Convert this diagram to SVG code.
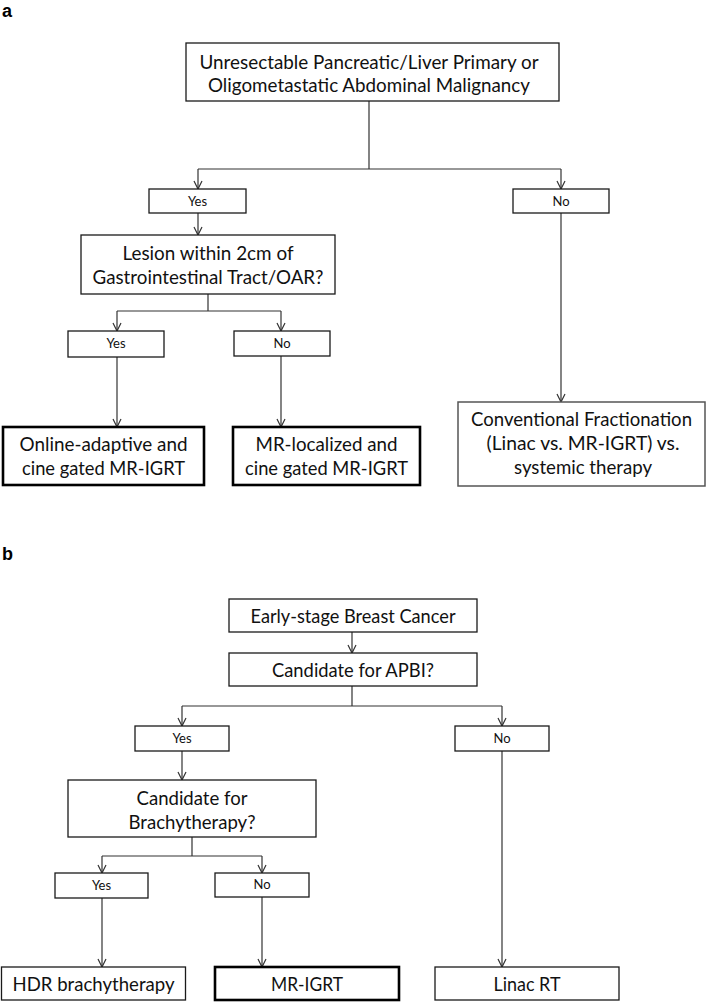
<svg xmlns="http://www.w3.org/2000/svg" width="714" height="1002" viewBox="0 0 714 1002">
<defs>
<style>
.bx{fill:#fff;stroke:#1a1a1a;stroke-width:1.3}
.bxk{fill:#fff;stroke:#000;stroke-width:2.6}
.bxg{fill:#fff;stroke:#555;stroke-width:1.5}
.t{font-family:Lato,"Liberation Sans",sans-serif;font-size:20px;fill:#111;text-anchor:middle}
.s{font-family:Lato,"Liberation Sans",sans-serif;font-size:13px;fill:#111;text-anchor:middle}
.lb{font-family:"Liberation Sans",Arial,sans-serif;font-size:18px;font-weight:bold;fill:#000}
.c{fill:none;stroke:#333;stroke-width:1.2}
</style>
<marker id="ah" viewBox="-9 -5 10 10" refX="0" refY="0" markerWidth="10" markerHeight="10" markerUnits="userSpaceOnUse" orient="auto">
<path d="M-8,-4 L0,0 L4,-8" fill="none" stroke="none"/>
<path d="M-8,-4 L0,0 L-8,4" fill="none" stroke="#333" stroke-width="1.2"/>
</marker>
</defs>
<rect width="714" height="1002" fill="#fff"/>
<text class="lb" x="2" y="17">a</text>
<text class="lb" x="2" y="560">b</text>
<g id="connectors">
<path class="c" d="M369,101 V169 M198,169 H561"/>
<path class="c" d="M198,169 V189" marker-end="url(#ah)"/>
<path class="c" d="M561,169 V189" marker-end="url(#ah)"/>
<path class="c" d="M198,213 V235" marker-end="url(#ah)"/>
<path class="c" d="M561,213 V402" marker-end="url(#ah)"/>
<path class="c" d="M208,294 V311 M117,311 H281"/>
<path class="c" d="M117,311 V331" marker-end="url(#ah)"/>
<path class="c" d="M281,311 V331" marker-end="url(#ah)"/>
<path class="c" d="M117,357 V427" marker-end="url(#ah)"/>
<path class="c" d="M281,356 V427" marker-end="url(#ah)"/>
<path class="c" d="M352,632 V653" marker-end="url(#ah)"/>
<path class="c" d="M352,686 V706 M182,706 H502"/>
<path class="c" d="M182,706 V726" marker-end="url(#ah)"/>
<path class="c" d="M502,706 V726" marker-end="url(#ah)"/>
<path class="c" d="M182,751 V780" marker-end="url(#ah)"/>
<path class="c" d="M502,751 V967" marker-end="url(#ah)"/>
<path class="c" d="M192,837 V856 M102,856 H262"/>
<path class="c" d="M102,856 V873" marker-end="url(#ah)"/>
<path class="c" d="M262,856 V873" marker-end="url(#ah)"/>
<path class="c" d="M102,898 V967" marker-end="url(#ah)"/>
<path class="c" d="M262,897 V967" marker-end="url(#ah)"/>
</g>
<g id="a-top">
<rect class="bx" x="186" y="43" width="373" height="58"/>
<text class="t" x="369" y="69" textLength="339" lengthAdjust="spacingAndGlyphs">Unresectable Pancreatic/Liver Primary or</text>
<text class="t" x="369" y="92" textLength="322" lengthAdjust="spacingAndGlyphs">Oligometastatic Abdominal Malignancy</text>
</g>
<g id="a-yes1">
<rect class="bx" x="149" y="189" width="97" height="24"/>
<text class="s" x="197.5" y="206">Yes</text>
</g>
<g id="a-no1">
<rect class="bx" x="513" y="189" width="96" height="24"/>
<text class="s" x="561" y="206">No</text>
</g>
<g id="a-lesion">
<rect class="bx" x="81" y="235" width="254" height="59"/>
<text class="t" x="208" y="260" textLength="171" lengthAdjust="spacingAndGlyphs">Lesion within 2cm of</text>
<text class="t" x="208" y="284" textLength="231" lengthAdjust="spacingAndGlyphs">Gastrointestinal Tract/OAR?</text>
</g>
<g id="a-yes2">
<rect class="bx" x="68" y="331" width="96" height="26"/>
<text class="s" x="116" y="348">Yes</text>
</g>
<g id="a-no2">
<rect class="bx" x="234" y="331" width="96" height="25"/>
<text class="s" x="282" y="348">No</text>
</g>
<g id="a-online">
<rect class="bxk" x="3" y="427" width="201" height="58"/>
<text class="t" x="103.5" y="451" textLength="168" lengthAdjust="spacingAndGlyphs">Online-adaptive and</text>
<text class="t" x="103.5" y="475" textLength="163" lengthAdjust="spacingAndGlyphs">cine gated MR-IGRT</text>
</g>
<g id="a-mrloc">
<rect class="bxk" x="233" y="427" width="187" height="58"/>
<text class="t" x="326.5" y="451" textLength="142" lengthAdjust="spacingAndGlyphs">MR-localized and</text>
<text class="t" x="326.5" y="475" textLength="163" lengthAdjust="spacingAndGlyphs">cine gated MR-IGRT</text>
</g>
<g id="a-conv">
<rect class="bxg" x="458" y="402" width="247" height="84"/>
<text class="t" x="581.5" y="426" textLength="221" lengthAdjust="spacingAndGlyphs">Conventional Fractionation</text>
<text class="t" x="583" y="450" textLength="193" lengthAdjust="spacingAndGlyphs">(Linac vs. MR-IGRT) vs.</text>
<text class="t" x="583" y="474" textLength="138" lengthAdjust="spacingAndGlyphs">systemic therapy</text>
</g>
<g id="b-early">
<rect class="bx" x="229" y="599" width="248" height="33"/>
<text class="t" x="353" y="623" textLength="205" lengthAdjust="spacingAndGlyphs">Early-stage Breast Cancer</text>
</g>
<g id="b-apbi">
<rect class="bx" x="229" y="653" width="248" height="33"/>
<text class="t" x="353" y="677" textLength="162" lengthAdjust="spacingAndGlyphs">Candidate for APBI?</text>
</g>
<g id="b-yes1">
<rect class="bx" x="135" y="726" width="94" height="25"/>
<text class="s" x="182" y="743">Yes</text>
</g>
<g id="b-no1">
<rect class="bx" x="455" y="726" width="94" height="25"/>
<text class="s" x="502" y="743">No</text>
</g>
<g id="b-brachy">
<rect class="bx" x="68" y="780" width="248" height="57"/>
<text class="t" x="192" y="805" textLength="111" lengthAdjust="spacingAndGlyphs">Candidate for</text>
<text class="t" x="192" y="829" textLength="127" lengthAdjust="spacingAndGlyphs">Brachytherapy?</text>
</g>
<g id="b-yes2">
<rect class="bx" x="55" y="873" width="93" height="25"/>
<text class="s" x="101.5" y="890">Yes</text>
</g>
<g id="b-no2">
<rect class="bx" x="215" y="873" width="94" height="24"/>
<text class="s" x="262" y="889">No</text>
</g>
<g id="b-hdr">
<rect class="bx" x="1.5" y="967" width="184" height="33"/>
<text class="t" x="93.5" y="991" textLength="162" lengthAdjust="spacingAndGlyphs">HDR brachytherapy</text>
</g>
<g id="b-mrigrt">
<rect class="bxk" x="215" y="967" width="184" height="33"/>
<text class="t" x="307" y="991" textLength="72" lengthAdjust="spacingAndGlyphs">MR-IGRT</text>
</g>
<g id="b-linac">
<rect class="bx" x="435" y="967" width="184" height="33"/>
<text class="t" x="527" y="991" textLength="67" lengthAdjust="spacingAndGlyphs">Linac RT</text>
</g>
</svg>
